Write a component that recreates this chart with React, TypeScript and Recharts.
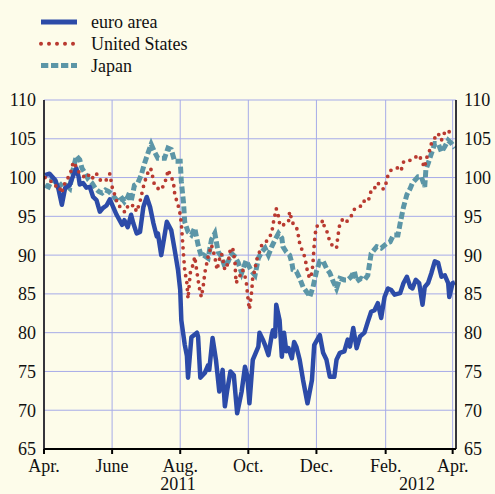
import React from "react";
import { LineChart, Line, XAxis, YAxis, CartesianGrid } from "recharts";

// x = days since 1 April 2011
const monthTicks = [0, 61, 122, 183, 244, 306, 366];
const monthLabels = ["Apr.", "June", "Aug.", "Oct.", "Dec.", "Feb.", "Apr."];
const yearTicks = [120, 334];
const yearLabels = ["2011", "2012"];
const yTicks = [65, 70, 75, 80, 85, 90, 95, 100, 105, 110];

const euroDays = [1,5,10,13,16,19,23,26,29,31,32,35,38,41,44,47,50,53,56,59,62,65,70,72,75,78,80,83,86,89,92,95,98,101,102,105,110,114,117,120,122,123,126,128,129,132,137,138,140,144,147,148,151,154,157,160,162,164,167,170,173,177,180,182,184,187,192,193,196,198,201,204,205,207,208,211,213,215,217,219,222,224,226,229,232,236,240,242,247,250,253,256,260,262,265,269,272,274,277,280,283,287,290,293,296,299,302,305,308,311,314,319,322,325,328,330,333,336,339,341,344,347,350,353,356,359,362,363,366,368];
const euroValues = [100.3,100.5,99.7,98.5,96.5,98.7,99,100.2,101.2,100.1,99.1,99.3,98.7,98.8,97.5,97.1,95.6,96.1,96.4,97.2,96.2,95.2,93.9,94.5,93.6,95.2,94.1,92.8,93,96.2,97.5,96.2,94.1,92.4,92.8,90,94.3,93.2,90.7,88.1,85.5,81.6,78.5,77,74.2,79.4,80,79.5,74.2,74.8,75.8,75.2,79.3,76.5,72.4,75.2,70.5,72.5,75,74.5,69.6,72.4,75.6,74.5,70.9,76.5,78.2,80,79.1,78.4,77.1,79.7,80.3,79.5,83.6,81.6,76.9,80,77.6,78,76.7,78.8,78.2,76.5,73.9,70.9,73.9,78.4,79.7,77.4,76.5,74.3,74.3,76.5,77.4,77.6,79.1,78.2,80.6,78,79.5,80,81.4,82.7,82.9,83.8,81.9,84.6,85.7,85.5,84.9,85.1,86.4,87.2,85.9,85.7,86.8,86.4,83.6,85.9,86.4,87.7,89.2,89,87.2,87.4,86.4,84.6,86.4,86.5];

const usDays = [1,5,10,13,16,17,22,25,26,29,32,38,41,44,47,50,55,59,61,64,66,70,72,74,77,80,83,86,89,92,95,96,99,102,105,108,110,111,114,116,117,119,121,122,123,124,125,126,128,129,131,134,135,138,140,141,143,144,147,150,153,155,157,159,162,165,167,169,171,172,175,178,181,183,184,186,187,189,190,192,193,195,198,201,204,205,208,210,211,213,216,219,220,222,223,226,228,229,231,234,235,237,238,240,241,242,243,244,247,250,251,253,254,256,259,262,263,265,268,271,275,278,283,286,289,292,293,298,299,304,307,308,311,316,318,320,322,326,330,334,336,339,341,342,345,347,350,353,356,357,360,363,366];
const usValues = [100,99.7,98.9,99,98,98.8,100.1,101.1,102,101.4,100.5,99.9,100.5,99.9,100.5,99.7,99.5,100.5,98.8,97.5,96.5,96,95.6,96.3,96,96.5,95.6,96.9,98.8,100.3,101.2,101,99,98.6,98.4,99.3,100.1,101,100.1,99.3,98,96.9,96,95.2,94.1,92,90,88.1,86.4,84.4,87.7,89,89.8,86.8,85.1,84.6,86.4,87.7,89.8,91.3,89.8,88.1,89.4,90.2,88.1,89,90.9,90.9,89.2,86.4,87.2,88.1,86.8,84,83,85.3,87.2,88.1,89.2,90,90.4,91.3,91.5,92.2,92.8,93.9,96,95,94.1,93.7,94.1,94.3,95.6,94.5,94.1,93.7,92.4,91.5,90.7,89.6,88.5,87.4,87,87.7,89.2,91.3,92.8,93.7,93.9,94.5,93.7,93.2,92.8,91.7,91.1,90.9,92.2,94.1,94.7,94.3,95,95.9,96.2,97,96.8,97.5,98.5,98.8,99.3,98.5,99.5,100.3,101,101.2,101.4,101,102,102,102.5,102.7,102.9,101.9,101.3,102.3,103.3,104.4,105.1,105.7,104.8,105.3,106.1,105.9,106];

const japanDays = [1,4,7,10,13,17,20,23,26,29,32,34,37,40,43,46,49,52,55,58,61,64,66,70,72,75,77,78,81,84,87,90,93,96,99,102,105,108,111,114,117,120,122,123,125,126,129,132,135,138,141,143,147,150,153,156,159,162,165,168,171,174,177,181,186,189,192,195,198,201,204,207,210,213,214,217,220,222,223,226,229,232,237,238,241,244,247,250,253,256,259,262,265,269,272,275,278,280,284,287,290,293,298,302,307,310,313,317,319,322,325,328,330,335,338,341,342,344,347,350,353,356,359,362,365,368];
const japanValues = [99,98.8,99.7,99.5,98.8,99.3,99,98.6,101,102.8,102.3,101.2,100.5,99.7,99.3,98.6,98.2,98,98.4,98.2,97.8,97.3,96.9,97.3,96.9,97.5,98.2,96.9,99,99.3,100.3,101.8,103.1,104.3,103.3,102.5,102.5,102.5,103.8,103.6,102.1,102.1,102.1,99.5,96.7,94.3,93,92.6,93.5,91.3,89.8,90,89.6,92,92.8,90.4,89.8,88.5,89.2,90.2,89.8,89,87.7,89.3,87.9,87.4,89.6,90.4,90.9,90,91.1,92,92.8,92.2,91.1,90.4,90,89,88.1,87.9,87,85.9,84.9,84.6,85.9,87.9,89.2,89.2,88.3,87.7,86.6,85.7,87,86.8,86.8,87.2,87.9,86.6,87,86.8,87.4,90.2,91.1,90.9,91.5,91.7,92.6,92.6,94.1,96.2,97.8,98.6,99.3,100.1,100.1,98.8,101,101.8,103.1,104.4,104.4,103.3,104,104.8,104.4,103.8];

const euroData = euroDays.map((d, i) => ({ d, v: euroValues[i] }));
const usData = usDays.map((d, i) => ({ d, v: usValues[i] }));
const japanData = japanDays.map((d, i) => ({ d, v: japanValues[i] }));

const FONT = '"Liberation Serif", "Times New Roman", serif';
const BG = "#fdfcea";
const EURO = "#2c4ba8";
const US = "#b93a30";
const JP = "#5c96a7";
const GRID = "#a6abe8";

const legendItems = [
  { name: "euro area", color: EURO, width: 5, dash: undefined as string | undefined, cap: "butt" },
  { name: "United States", color: US, width: 4, dash: "0 8", cap: "round" },
  { name: "Japan", color: JP, width: 5, dash: "7.3 2.7", cap: "butt" },
];

const LegendOverlay = () => (
  <svg width={200} height={80} style={{ position: "absolute", left: 0, top: 0 }}>
    {legendItems.map((it, i) => (
      <g key={it.name}>
        <line
          x1={41}
          x2={77}
          y1={22 + i * 21.8}
          y2={22 + i * 21.8}
          stroke={it.color}
          strokeWidth={it.width}
          strokeDasharray={it.dash}
          strokeLinecap={it.cap as any}
        />
        <text x={91} y={28 + i * 21.8} fontFamily={FONT} fontSize={18} fill="#111">
          {it.name}
        </text>
      </g>
    ))}
  </svg>
);

export default function App() {
  return (
    <div style={{ position: "absolute", left: 0, top: 0, width: 495, height: 494, background: BG }}>
      <LineChart width={495} height={494} margin={{ top: 100, right: 0, bottom: 0, left: 0 }}>
        <CartesianGrid xAxisId="m" yAxisId="l" stroke={GRID} strokeWidth={1} />
        <XAxis
          xAxisId="m"
          type="number"
          dataKey="d"
          domain={[0, 369]}
          ticks={monthTicks}
          tickFormatter={(v: number) => monthLabels[monthTicks.indexOf(v)]}
          allowDataOverflow
          height={25}
          tickSize={5}
          tickMargin={5}
          axisLine={{ stroke: "#000", strokeWidth: 2 }}
          tickLine={{ stroke: "#000", strokeWidth: 2 }}
          tick={{ fill: "#111", fontSize: 18, fontFamily: FONT }}
          interval={0}
        />
        <XAxis
          xAxisId="y"
          type="number"
          dataKey="d"
          domain={[0, 369]}
          ticks={yearTicks}
          tickFormatter={(v: number) => yearLabels[yearTicks.indexOf(v)]}
          allowDataOverflow
          height={20}
          tickSize={0}
          tickMargin={3}
          axisLine={false}
          tickLine={false}
          tick={{ fill: "#111", fontSize: 18, fontFamily: FONT }}
          interval={0}
        />
        <YAxis
          yAxisId="l"
          type="number"
          domain={[65, 110]}
          ticks={yTicks}
          allowDataOverflow
          width={44}
          tickLine={false}
          tickSize={6}
          tickMargin={2}
          axisLine={{ stroke: "#000", strokeWidth: 1.5 }}
          tick={{ fill: "#111", fontSize: 18, fontFamily: FONT }}
          interval={0}
        />
        <YAxis
          yAxisId="r"
          orientation="right"
          type="number"
          domain={[65, 110]}
          ticks={yTicks}
          allowDataOverflow
          width={39}
          tickLine={false}
          tickSize={6}
          tickMargin={2}
          axisLine={{ stroke: "#000", strokeWidth: 1.5 }}
          tick={{ fill: "#111", fontSize: 18, fontFamily: FONT, textAnchor: "start" }}
          interval={0}
        />
        <Line
          xAxisId="m"
          yAxisId="l"
          data={japanData}
          dataKey="v"
          name="Japan"
          type="linear"
          stroke={JP}
          strokeWidth={5}
          strokeDasharray="7 3"
          dot={false}
          activeDot={false}
          isAnimationActive={false}
        />
        <Line
          xAxisId="m"
          yAxisId="l"
          data={euroData}
          dataKey="v"
          name="euro area"
          type="linear"
          stroke={EURO}
          strokeWidth={4.5}
          strokeLinejoin="round"
          dot={false}
          activeDot={false}
          isAnimationActive={false}
        />
        <Line
          xAxisId="m"
          yAxisId="l"
          data={usData}
          dataKey="v"
          name="United States"
          type="linear"
          stroke={US}
          strokeWidth={3.8}
          strokeDasharray="0 7"
          strokeLinecap="round"
          dot={false}
          activeDot={false}
          isAnimationActive={false}
        />
      </LineChart>
      <LegendOverlay />
    </div>
  );
}
